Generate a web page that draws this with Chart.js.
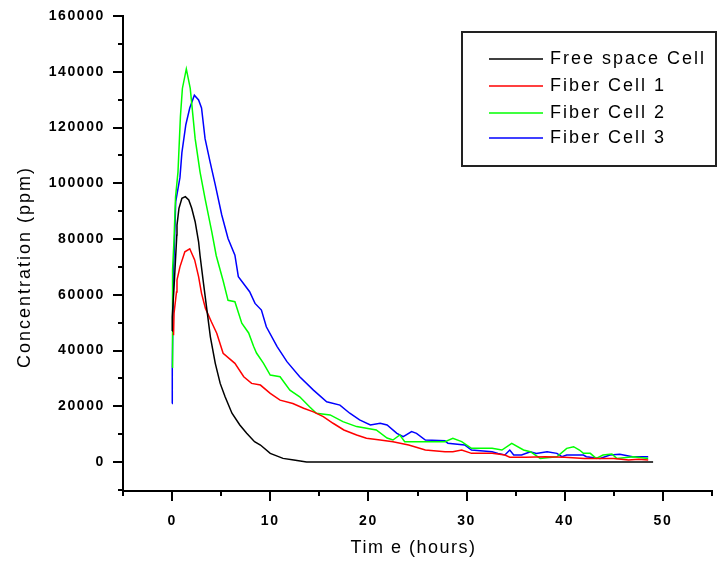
<!DOCTYPE html>
<html>
<head>
<meta charset="utf-8">
<script src="https://cdn.jsdelivr.net/npm/chart.js@4.4.0/dist/chart.umd.min.js"></script>
<style>
  html, body { margin: 0; padding: 0; background: #fff; }
  #wrap { width: 719px; height: 562px; }
</style>
</head>
<body>
<div id="wrap"><canvas id="concChart" width="719" height="562"></canvas></div>
<script>
const FONT = '"Liberation Sans", Arial, sans-serif';

const seriesNames = ["Free space Cell", "Fiber Cell 1", "Fiber Cell 2", "Fiber Cell 3"];
const seriesColors = ["#000000", "#ff0000", "#00ff00", "#0000ff"];
const xTickLabels = [0, 10, 20, 30, 40, 50];
const yTickLabels = [0, 20000, 40000, 60000, 80000, 100000, 120000, 140000, 160000];
const xTitle = "Tim e (hours)";
const yTitle = "Concentration (ppm)";

// free space cell
const freeTime = [0, 0.02, 0.25, 0.48, 0.5, 0.7, 1.0, 1.35, 1.7, 2.0, 2.35, 2.7, 2.85, 3.2, 3.55, 3.9, 4.4, 4.9, 5.4, 6.1,
  6.9, 7.6, 8.4, 9.0, 10.0, 11.3, 12.4, 13.7, 20, 30, 40, 49];
const freeConc = [47000, 52000, 66000, 81400, 85000, 91000, 94600, 95200, 94000, 91000, 86200, 79000, 74000, 64100, 54500, 44900, 35400, 28200, 23400, 17500,
  13300, 10300, 7300, 6100, 3100, 1300, 700, 0, 0, 0, 0, 0];

// fiber cell 1
const fiber1Time = [0.15, 0.2, 0.45, 0.5, 0.8, 1.3, 1.8, 2.3, 2.7, 3.0, 3.4, 4.0, 4.55, 5.2, 6.4, 7.3, 8.1, 9.0, 10, 11,
  12.3, 13.4, 14.4, 15.4, 16.4, 17.5, 18.8, 19.8, 21.2, 22.5, 24.1, 24.7, 25.8, 27.8, 28.6, 29.5, 30.5, 32.6, 33.9, 34.4,
  36, 38, 40, 42, 45, 46.5, 47.5, 48.5];
const fiber1Conc = [45500, 53400, 61000, 65300, 70000, 75400, 76500, 72500, 66500, 60500, 55100, 50300, 46200, 39000, 35400, 30600, 28200, 27600, 24600, 22200,
  21000, 19300, 18000, 16300, 13900, 11500, 9700, 8500, 7900, 7300, 6100, 5500, 4300, 3700, 3700, 4300, 3100, 3100, 2500, 1700,
  1700, 1900, 1700, 1300, 1300, 700, 1000, 700];

// fiber cell 2
const fiber2Time = [0, 0.05, 0.2, 0.35, 0.6, 0.85, 1.05, 1.45, 1.85, 2.35, 2.85, 3.35, 4.05, 4.5, 5.2, 5.7, 6.4, 7.1, 7.8, 8.3,
  8.6, 9.3, 10, 11, 12, 13, 14, 14.7, 16.1, 17.4, 18.8, 20.8, 21.9, 22.5, 23.2, 23.7, 25.4, 27.8, 28.6, 29.5,
  30.5, 32.6, 33.6, 34.6, 35.8, 36.5, 37.5, 39.2, 40.2, 40.9, 41.5, 41.9, 42.6, 43.2, 43.9, 44.8, 45.3, 47, 48.5];
const fiber2Conc = [34000, 69000, 80000, 95000, 104000, 124000, 134000, 141000, 134000, 116000, 104000, 94700, 82500, 74000, 65000, 58000, 57500, 49800, 46300, 41500,
  39100, 35500, 31200, 30600, 25800, 23400, 19800, 17500, 16900, 14500, 12700, 11500, 8600, 7900, 9700, 7300, 7300, 7300, 8500, 7300,
  4900, 4900, 4300, 6700, 4300, 3700, 1300, 1900, 4900, 5500, 4300, 3100, 3100, 1300, 2500, 2900, 1300, 1900, 1300];

// fiber cell 3
const fiber3Time = [0, 0.02, 0.15, 0.37, 0.8, 1.0, 1.4, 1.8, 2.27, 2.7, 3.0, 3.36, 3.87, 4.4, 5.06, 5.7, 6.4, 6.75, 7.9, 8.45,
  9.1, 9.6, 10.7, 11.7, 13, 14.4, 15.75, 17.1, 18.1, 19.1, 20.2, 21.2, 21.9, 22.9, 23.55, 24.4, 24.9, 25.8, 27.8, 28.1,
  29.8, 30.5, 32.6, 33.2, 33.9, 34.4, 34.8, 35.6, 36.5, 37.1, 38.2, 39.2, 39.7, 40.2, 41.9, 42.2, 43.6, 44.6, 45.6, 46.9, 48.5];
const fiber3Conc = [21000, 33700, 68000, 93400, 102000, 111000, 121000, 127000, 131600, 129900, 127000, 116000, 107700, 99400, 88600, 80200, 74200, 66500, 61100, 56900,
  54500, 48500, 41400, 36000, 30600, 25800, 21600, 20400, 17500, 15100, 13300, 13900, 13300, 10300, 9100, 10900, 10300, 7900, 7600, 6700,
  6100, 4300, 3700, 3100, 2500, 4300, 2500, 2500, 3700, 3100, 3700, 3100, 1900, 2500, 2500, 1900, 1300, 2500, 2800, 1900, 1900];

const allTimes = [freeTime, fiber1Time, fiber2Time, fiber3Time];
const allConc = [freeConc, fiber1Conc, fiber2Conc, fiber3Conc];

function toPoints(times, values) {
  return times.map((t, i) => ({ x: t, y: values[i] }));
}

// Origin-style spaced text everywhere
const spacingPlugin = {
  id: 'spacing',
  beforeUpdate(chart) { chart.ctx.letterSpacing = '1.6px'; },
  beforeDraw(chart) { chart.ctx.letterSpacing = '1.6px'; }
};

// minor/major ticks pointing outwards, axis titles, boxed legend
const decorPlugin = {
  id: 'decor',
  afterDraw(chart) {
    const ctx = chart.ctx;
    const xs = chart.scales.x, ys = chart.scales.y;
    const area = chart.chartArea;
    ctx.save();
    ctx.strokeStyle = '#000';
    ctx.lineWidth = 2;
    ctx.beginPath();
    for (let v = -5; v <= 55; v += 5) {
      const px = Math.round(xs.getPixelForValue(v));
      const len = v % 10 === 0 ? 10 : 5;
      ctx.moveTo(px, area.bottom);
      ctx.lineTo(px, area.bottom + len);
    }
    for (let v = -10000; v <= 160000; v += 10000) {
      const py = Math.round(ys.getPixelForValue(v));
      const len = v % 20000 === 0 ? 10 : 5;
      ctx.moveTo(area.left, py);
      ctx.lineTo(area.left - len, py);
    }
    ctx.stroke();

    ctx.fillStyle = '#000';
    ctx.font = '18px ' + FONT;
    ctx.textAlign = 'center';
    ctx.textBaseline = 'middle';
    ctx.letterSpacing = '1.5px';
    ctx.fillText(xTitle, (area.left + area.right) / 2 - 4, 548);
    ctx.save();
    ctx.translate(25, 267);
    ctx.rotate(-Math.PI / 2);
    ctx.letterSpacing = '2px';
    ctx.fillText(yTitle, 0, 0);
    ctx.restore();

    // legend
    ctx.lineWidth = 2;
    ctx.strokeStyle = '#222';
    ctx.strokeRect(462, 32, 254, 134);
    ctx.textAlign = 'left';
    ctx.letterSpacing = '2px';
    const rows = [59, 86, 113, 138];
    seriesNames.forEach((name, i) => {
      ctx.strokeStyle = seriesColors[i];
      ctx.lineWidth = 1.5;
      ctx.beginPath();
      ctx.moveTo(489, rows[i]);
      ctx.lineTo(543, rows[i]);
      ctx.stroke();
      ctx.fillStyle = '#000';
      ctx.fillText(name, 550, rows[i]);
    });
    ctx.restore();
  }
};

const datasets = seriesNames.map((name, i) => ({
  label: name,
  data: toPoints(allTimes[i], allConc[i]),
  borderColor: seriesColors[i],
  borderWidth: 1.5,
  pointRadius: 0,
  tension: 0,
  fill: false
}));

new Chart(document.getElementById('concChart'), {
  type: 'line',
  data: { datasets: datasets },
  options: {
    responsive: false,
    animation: false,
    devicePixelRatio: 1,
    layout: { padding: { top: 16, right: 7, left: 0, bottom: 0 } },
    plugins: {
      legend: { display: false },
      tooltip: { enabled: false }
    },
    scales: {
      x: {
        type: 'linear',
        min: -5,
        max: 55,
        afterBuildTicks: s => { s.ticks = xTickLabels.map(v => ({ value: v })); },
        afterFit: s => { s.height = 71; s.paddingLeft = 0; s.paddingRight = 0; },
        grid: { display: false, drawTicks: false },
        border: { display: true, color: '#000', width: 2 },
        ticks: { padding: 22, color: '#000', maxRotation: 0, font: { family: FONT, size: 14, weight: 'bold' },
          callback: v => String(v) },
        title: { display: false }
      },
      y: {
        type: 'linear',
        min: -10400,
        max: 160000,
        afterBuildTicks: s => { s.ticks = yTickLabels.map(v => ({ value: v })); },
        afterFit: s => { s.width = 123; s.paddingTop = 0; s.paddingBottom = 0; },
        grid: { display: false, drawTicks: false },
        border: { display: true, color: '#000', width: 2 },
        ticks: { padding: 18, color: '#000', font: { family: FONT, size: 14, weight: 'bold' },
          callback: v => String(v) },
        title: { display: false }
      }
    }
  },
  plugins: [spacingPlugin, decorPlugin]
});
</script>
</body>
</html>
